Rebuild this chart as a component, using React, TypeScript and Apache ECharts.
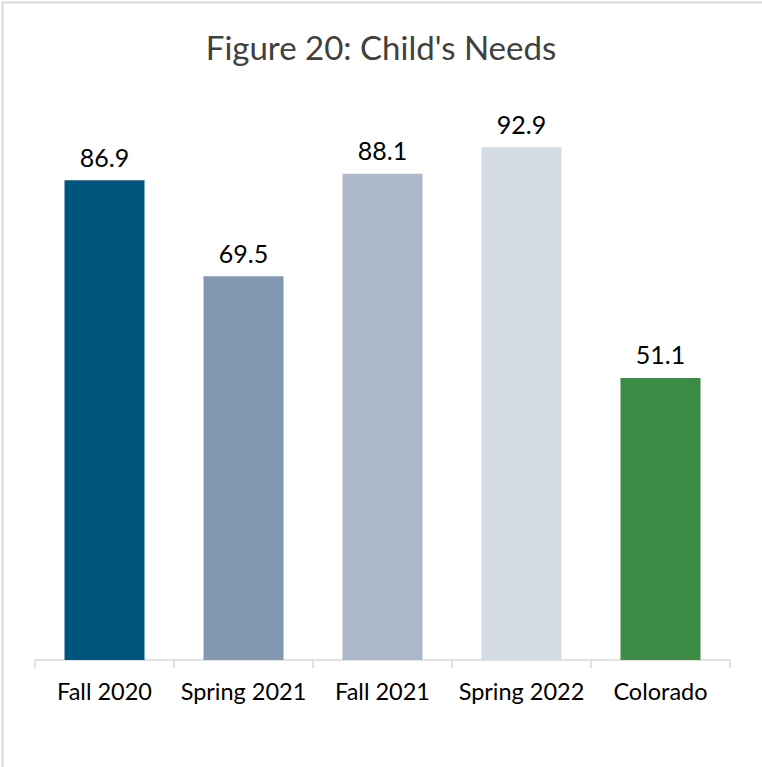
import React, { useEffect, useRef } from "react";
import * as echarts from "echarts";

const categories = ["Fall 2020", "Spring 2021", "Fall 2021", "Spring 2022", "Colorado"];
const values = [86.9, 69.5, 88.1, 92.9, 51.1];
const barColors = ["#00557F", "#8497B0", "#ADB9CA", "#D6DCE5", "#3D8C46"];
const titleText = "Figure 20: Child's Needs";

export default function App() {
  const ref = useRef<HTMLDivElement>(null);
  useEffect(() => {
    if (!ref.current) return;
    const chart = echarts.init(ref.current, null, { renderer: "svg" });
    const font = "Lato, 'Open Sans', sans-serif";
    chart.setOption({
      animation: false,
      backgroundColor: "#ffffff",
      title: {
        text: titleText,
        left: "center",
        top: 25,
        textStyle: { fontFamily: font, fontSize: 33, fontWeight: "normal", color: "#404040" },
      },
      graphic: [
        {
          type: "rect",
          left: 0,
          top: 0,
          shape: { x: 0, y: 0, width: 761, height: 766 },
          style: { fill: "none", stroke: "#d9d9d9", lineWidth: 2 },
          silent: true,
          z: -1,
        },
      ],
      grid: { left: 35, right: 32, top: 108, bottom: 107, containLabel: false },
      xAxis: {
        type: "category",
        data: categories,
        axisLine: { show: true, lineStyle: { color: "#d9d9d9", width: 1.5 } },
        axisTick: { show: true, length: 8, lineStyle: { color: "#d9d9d9", width: 1.5 } },
        axisLabel: { fontFamily: font, fontSize: 23.5, color: "#000000", margin: 19, interval: 0 },
      },
      yAxis: {
        type: "value",
        min: 0,
        max: 100,
        show: false,
        splitLine: { show: false },
      },
      series: [
        {
          type: "bar",
          barWidth: 80,
          data: values.map((v, i) => ({ value: v, itemStyle: { color: barColors[i] } })),
          label: {
            show: true,
            position: "top",
            distance: 11,
            fontFamily: font,
            fontSize: 25,
            color: "#000000",
            formatter: (p: any) => p.value.toFixed(1),
          },
        },
      ],
    });
    return () => chart.dispose();
  }, []);
  return (
    <div
      ref={ref}
      style={{ position: "fixed", left: 0, top: 0, width: 762, height: 767 }}
    />
  );
}
